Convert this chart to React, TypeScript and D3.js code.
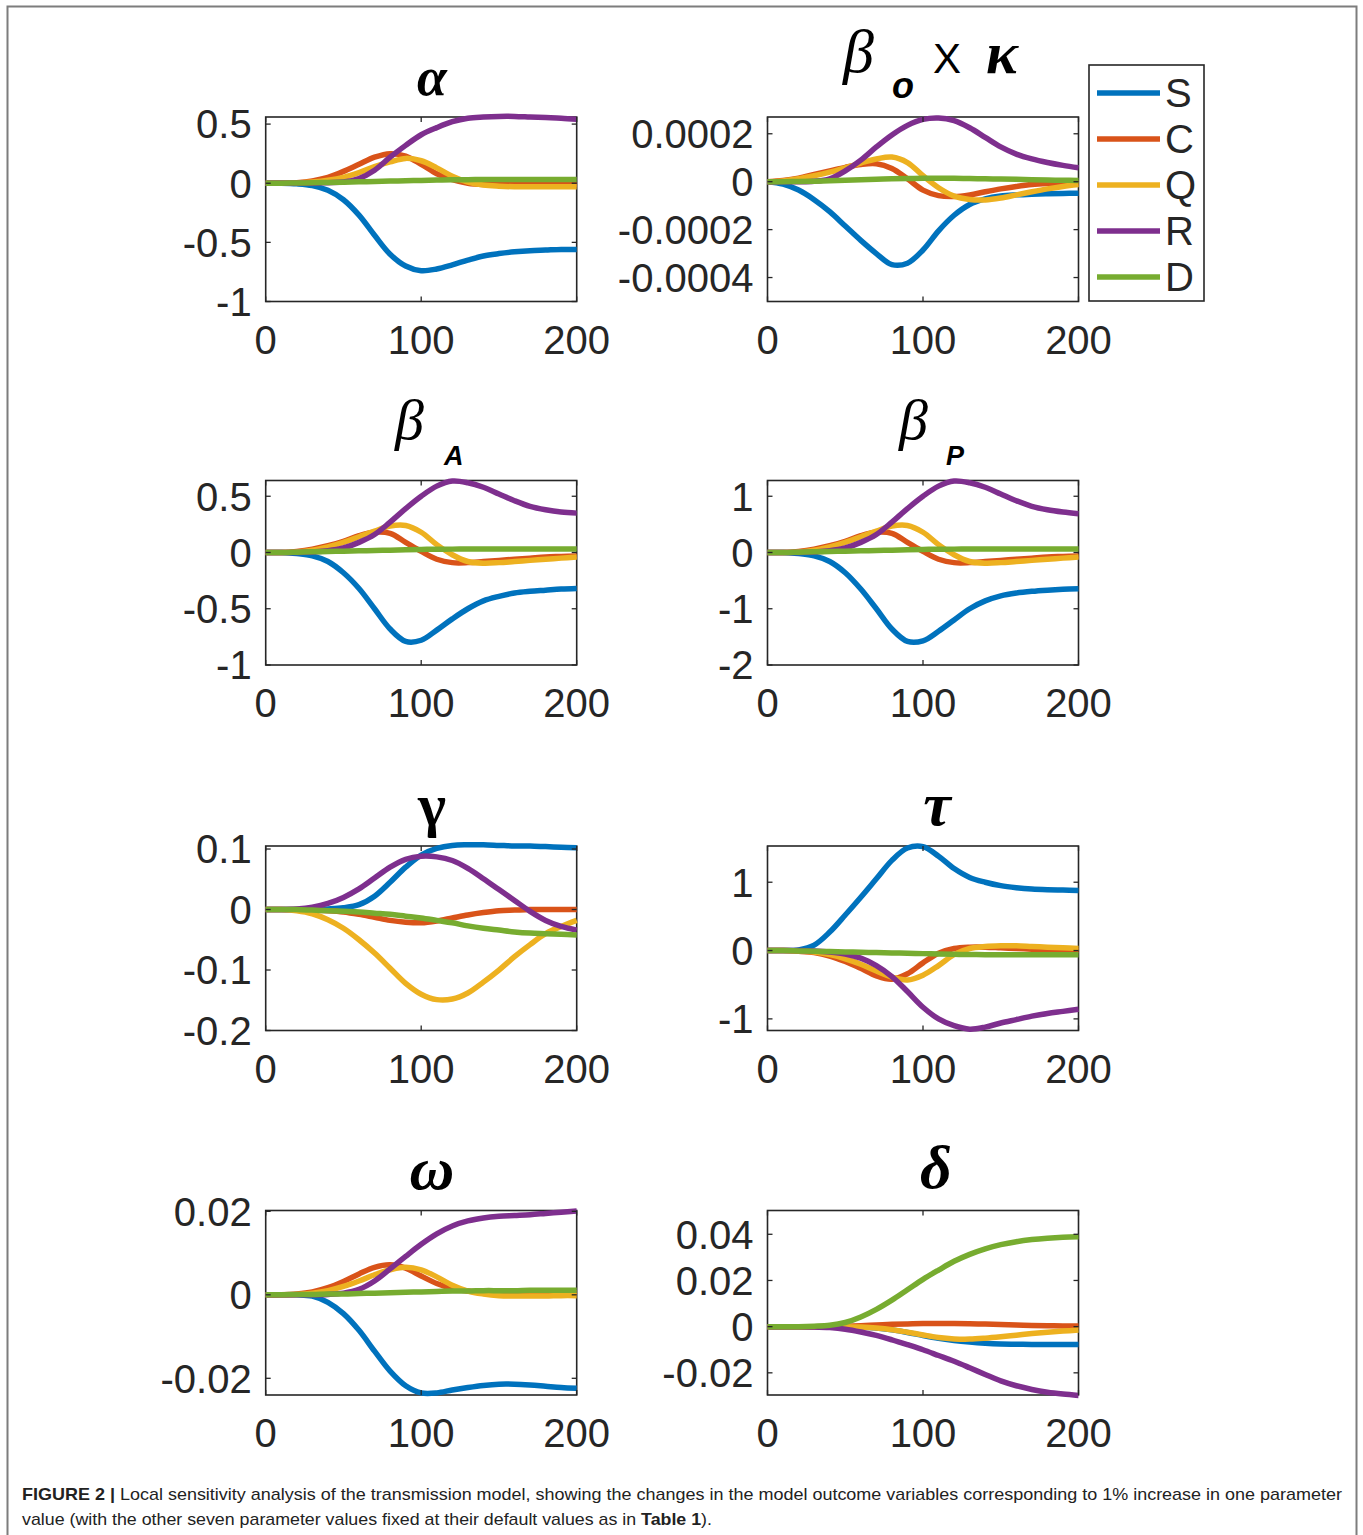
import React, { useEffect, useRef } from 'react';
import * as d3 from 'd3';

// time axis (days)
const days = [0, 10, 20, 30, 40, 50, 60, 70, 80, 90, 100, 110, 120, 130, 140, 150, 160, 170, 180, 190, 200];
const seriesNames = ['S', 'C', 'Q', 'R', 'D'];
const seriesColors = ['#0072BD', '#D95319', '#EDB120', '#7E2F8E', '#77AC30'];

// alpha
const alphaS = [0, 0, -0.005, -0.02, -0.06, -0.14, -0.27, -0.44, -0.6, -0.7, -0.74, -0.725, -0.69, -0.65, -0.615, -0.595, -0.58, -0.57, -0.565, -0.56, -0.56];
const alphaC = [0, 0, 0.005, 0.02, 0.05, 0.1, 0.16, 0.22, 0.25, 0.23, 0.16, 0.08, 0.03, 0, -0.01, -0.01, -0.01, -0.01, -0.01, -0.01, -0.01];
const alphaQ = [0, 0, 0.002, 0.01, 0.025, 0.05, 0.09, 0.14, 0.18, 0.21, 0.19, 0.13, 0.06, 0.01, -0.015, -0.025, -0.03, -0.03, -0.03, -0.03, -0.03];
const alphaR = [0, 0, 0, 0, 0.005, 0.01, 0.04, 0.11, 0.22, 0.32, 0.41, 0.47, 0.52, 0.55, 0.56, 0.565, 0.565, 0.56, 0.555, 0.55, 0.54];
const alphaD = [0, 0, 0.002, 0.004, 0.006, 0.009, 0.012, 0.015, 0.018, 0.021, 0.024, 0.027, 0.029, 0.03, 0.031, 0.031, 0.031, 0.031, 0.031, 0.031, 0.031];
const alphaTicks = [-1, -0.5, 0, 0.5];

// beta_o x kappa
const kappaS = [0, -0.1e-4, -0.35e-4, -0.75e-4, -1.25e-4, -1.85e-4, -2.45e-4, -3.0e-4, -3.46e-4, -3.4e-4, -2.85e-4, -2.05e-4, -1.4e-4, -0.95e-4, -0.72e-4, -0.6e-4, -0.55e-4, -0.52e-4, -0.5e-4, -0.49e-4, -0.48e-4];
const kappaC = [0, 0.05e-4, 0.15e-4, 0.3e-4, 0.45e-4, 0.6e-4, 0.72e-4, 0.75e-4, 0.55e-4, 0.12e-4, -0.35e-4, -0.58e-4, -0.62e-4, -0.55e-4, -0.42e-4, -0.3e-4, -0.2e-4, -0.12e-4, -0.08e-4, -0.06e-4, -0.05e-4];
const kappaQ = [0, 0.03e-4, 0.12e-4, 0.25e-4, 0.4e-4, 0.58e-4, 0.78e-4, 0.95e-4, 1.03e-4, 0.8e-4, 0.25e-4, -0.25e-4, -0.6e-4, -0.74e-4, -0.76e-4, -0.68e-4, -0.55e-4, -0.42e-4, -0.3e-4, -0.2e-4, -0.12e-4];
const kappaR = [0, 0, 0, 0.02e-4, 0.12e-4, 0.45e-4, 0.9e-4, 1.45e-4, 1.95e-4, 2.35e-4, 2.6e-4, 2.66e-4, 2.55e-4, 2.25e-4, 1.85e-4, 1.45e-4, 1.15e-4, 0.95e-4, 0.8e-4, 0.68e-4, 0.58e-4];
const kappaD = [0, 0, 0.01e-4, 0.02e-4, 0.04e-4, 0.06e-4, 0.08e-4, 0.1e-4, 0.12e-4, 0.13e-4, 0.14e-4, 0.14e-4, 0.14e-4, 0.13e-4, 0.12e-4, 0.11e-4, 0.1e-4, 0.08e-4, 0.07e-4, 0.06e-4, 0.05e-4];
const kappaTicks = [-0.0004, -0.0002, 0, 0.0002];

// beta_A
const betaAS = [0, 0, -0.01, -0.03, -0.08, -0.18, -0.32, -0.5, -0.68, -0.79, -0.78, -0.69, -0.59, -0.5, -0.43, -0.39, -0.36, -0.345, -0.335, -0.325, -0.32];
const betaAC = [0, 0, 0.01, 0.03, 0.06, 0.1, 0.15, 0.18, 0.17, 0.09, 0.01, -0.06, -0.09, -0.09, -0.08, -0.07, -0.06, -0.05, -0.04, -0.035, -0.03];
const betaAQ = [0, 0, 0.005, 0.02, 0.05, 0.09, 0.14, 0.19, 0.235, 0.24, 0.18, 0.07, -0.02, -0.08, -0.095, -0.09, -0.08, -0.07, -0.06, -0.05, -0.04];
const betaAR = [0, 0, 0, 0.005, 0.015, 0.04, 0.09, 0.16, 0.27, 0.39, 0.5, 0.59, 0.635, 0.62, 0.58, 0.52, 0.46, 0.41, 0.38, 0.36, 0.35];
const betaAD = [0, 0, 0.003, 0.006, 0.009, 0.012, 0.015, 0.018, 0.021, 0.024, 0.027, 0.029, 0.03, 0.031, 0.031, 0.031, 0.031, 0.031, 0.031, 0.031, 0.031];
const betaATicks = [-1, -0.5, 0, 0.5];

// beta_P
const betaPS = [0, 0, -0.02, -0.06, -0.16, -0.36, -0.65, -1.0, -1.36, -1.58, -1.57, -1.4, -1.2, -1.0, -0.86, -0.77, -0.72, -0.69, -0.67, -0.655, -0.645];
const betaPC = [0, 0, 0.02, 0.06, 0.12, 0.2, 0.3, 0.36, 0.34, 0.18, 0.02, -0.12, -0.18, -0.18, -0.16, -0.14, -0.12, -0.1, -0.08, -0.07, -0.06];
const betaPQ = [0, 0, 0.01, 0.04, 0.1, 0.18, 0.28, 0.38, 0.47, 0.48, 0.36, 0.14, -0.04, -0.16, -0.19, -0.18, -0.16, -0.14, -0.12, -0.1, -0.08];
const betaPR = [0, 0, 0, 0.01, 0.03, 0.08, 0.18, 0.32, 0.54, 0.78, 1.0, 1.18, 1.27, 1.24, 1.16, 1.04, 0.92, 0.82, 0.76, 0.72, 0.69];
const betaPD = [0, 0, 0.006, 0.012, 0.018, 0.024, 0.03, 0.036, 0.042, 0.048, 0.054, 0.058, 0.06, 0.062, 0.062, 0.062, 0.062, 0.062, 0.062, 0.062, 0.062];
const betaPTicks = [-2, -1, 0, 1];

// gamma
const gammaS = [0, 0, 0, 0, 0.001, 0.003, 0.008, 0.022, 0.045, 0.07, 0.09, 0.101, 0.106, 0.107, 0.107, 0.106, 0.105, 0.105, 0.104, 0.103, 0.102];
const gammaC = [0, 0, 0, -0.001, -0.002, -0.004, -0.008, -0.013, -0.018, -0.021, -0.022, -0.019, -0.014, -0.009, -0.005, -0.002, -0.001, 0, 0, 0, 0];
const gammaQ = [0, 0, -0.002, -0.007, -0.017, -0.031, -0.05, -0.072, -0.097, -0.122, -0.14, -0.149, -0.148, -0.138, -0.12, -0.1, -0.078, -0.058, -0.04, -0.028, -0.018];
const gammaR = [0, 0, 0.001, 0.004, 0.01, 0.02, 0.034, 0.052, 0.07, 0.083, 0.088, 0.087, 0.081, 0.068, 0.051, 0.033, 0.015, -0.003, -0.018, -0.028, -0.034];
const gammaD = [0, 0, 0, -0.001, -0.002, -0.003, -0.004, -0.006, -0.008, -0.011, -0.014, -0.018, -0.022, -0.027, -0.031, -0.034, -0.037, -0.039, -0.04, -0.041, -0.042];
const gammaTicks = [-0.2, -0.1, 0, 0.1];

// tau
const tauS = [0, 0, 0.01, 0.08, 0.27, 0.52, 0.78, 1.05, 1.32, 1.5, 1.52, 1.38, 1.2, 1.07, 1.0, 0.95, 0.92, 0.9, 0.89, 0.885, 0.88];
const tauC = [0, 0, -0.01, -0.03, -0.08, -0.16, -0.26, -0.37, -0.42, -0.34, -0.18, -0.04, 0.03, 0.05, 0.05, 0.04, 0.03, 0.02, 0.01, 0, 0];
const tauQ = [0, 0, -0.005, -0.02, -0.06, -0.12, -0.2, -0.3, -0.39, -0.43, -0.36, -0.22, -0.06, 0.03, 0.06, 0.07, 0.07, 0.06, 0.05, 0.04, 0.03];
const tauR = [0, 0, 0, -0.005, -0.02, -0.05, -0.11, -0.22, -0.38, -0.6, -0.83, -1.0, -1.1, -1.15, -1.12, -1.06, -1.01, -0.96, -0.92, -0.89, -0.86];
const tauD = [0, 0, -0.005, -0.01, -0.015, -0.02, -0.025, -0.03, -0.035, -0.04, -0.045, -0.05, -0.055, -0.058, -0.06, -0.06, -0.06, -0.06, -0.06, -0.06, -0.06];
const tauTicks = [-1, 0, 1];

// omega
const omegaS = [0, 0, 0, -0.0003, -0.0018, -0.0045, -0.0085, -0.0135, -0.0183, -0.0218, -0.0235, -0.0235, -0.0228, -0.0222, -0.0217, -0.0214, -0.0214, -0.0216, -0.0219, -0.0222, -0.0224];
const omegaC = [0, 0, 0.0002, 0.0007, 0.0017, 0.0032, 0.005, 0.0066, 0.0072, 0.0064, 0.0045, 0.0027, 0.0015, 0.0009, 0.0007, 0.0006, 0.0005, 0.0005, 0.0005, 0.0005, 0.0005];
const omegaQ = [0, 0, 0.0001, 0.0004, 0.001, 0.002, 0.0033, 0.0048, 0.006, 0.0066, 0.006, 0.0043, 0.0023, 0.0009, 0.0002, -0.0002, -0.0003, -0.0003, -0.0003, -0.0002, -0.0002];
const omegaR = [0, 0, 0, 0, 0.0001, 0.0004, 0.0013, 0.0033, 0.0062, 0.0092, 0.0121, 0.0146, 0.0165, 0.0177, 0.0184, 0.0188, 0.019, 0.0192, 0.0195, 0.0198, 0.0201];
const omegaD = [0, 0, 0.0001, 0.0001, 0.0002, 0.0002, 0.0003, 0.0004, 0.0005, 0.0006, 0.0007, 0.0008, 0.0009, 0.0009, 0.001, 0.001, 0.001, 0.0011, 0.0011, 0.0011, 0.0011];
const omegaTicks = [-0.02, 0, 0.02];

// delta
const deltaS = [0, 0, 0, 0, 0, 0, -0.0002, -0.0006, -0.0014, -0.0025, -0.0038, -0.005, -0.006, -0.0067, -0.0072, -0.0075, -0.0076, -0.0077, -0.0077, -0.0077, -0.0077];
const deltaC = [0, 0, 0, 0, 0, 0.0002, 0.0004, 0.0007, 0.001, 0.0012, 0.0014, 0.0014, 0.0014, 0.0013, 0.0011, 0.0009, 0.0007, 0.0005, 0.0004, 0.0003, 0.0003];
const deltaQ = [0, 0, 0, 0, 0, 0, -0.0002, -0.0006, -0.0013, -0.0024, -0.0036, -0.0047, -0.0053, -0.0054, -0.005, -0.0044, -0.0037, -0.003, -0.0024, -0.0019, -0.0015];
const deltaR = [0, 0, 0, -0.0001, -0.0004, -0.0011, -0.0023, -0.0038, -0.0057, -0.0078, -0.01, -0.0125, -0.015, -0.0178, -0.0207, -0.0235, -0.0256, -0.0272, -0.0284, -0.0292, -0.0298];
const deltaD = [0, 0, 0, 0.0002, 0.0006, 0.0018, 0.0042, 0.0075, 0.0115, 0.016, 0.0205, 0.0245, 0.0283, 0.0313, 0.0337, 0.0355, 0.0368, 0.0377, 0.0383, 0.0387, 0.0389];
const deltaTicks = [-0.02, 0, 0.02, 0.04];

const xTicks = [0, 100, 200];

const panels = [
  { col: 0, row: 0, domain: [-1, 0.56], ticks: alphaTicks, series: [alphaS, alphaC, alphaQ, alphaR, alphaD] },
  { col: 1, row: 0, domain: [-0.0005, 0.00027], ticks: kappaTicks, series: [kappaS, kappaC, kappaQ, kappaR, kappaD] },
  { col: 0, row: 1, domain: [-1, 0.64], ticks: betaATicks, series: [betaAS, betaAC, betaAQ, betaAR, betaAD] },
  { col: 1, row: 1, domain: [-2, 1.28], ticks: betaPTicks, series: [betaPS, betaPC, betaPQ, betaPR, betaPD] },
  { col: 0, row: 2, domain: [-0.2, 0.105], ticks: gammaTicks, series: [gammaS, gammaC, gammaQ, gammaR, gammaD] },
  { col: 1, row: 2, domain: [-1.17, 1.53], ticks: tauTicks, series: [tauS, tauC, tauQ, tauR, tauD] },
  { col: 0, row: 3, domain: [-0.024, 0.0202], ticks: omegaTicks, series: [omegaS, omegaC, omegaQ, omegaR, omegaD] },
  { col: 1, row: 3, domain: [-0.0296, 0.0503], ticks: deltaTicks, series: [deltaS, deltaC, deltaQ, deltaR, deltaD] },
];

const W = 1363;
const H = 1535;
const colLeft = [265.7, 767.5];
const rowTop = [117, 480.5, 846, 1210.5];
const plotW = 311;
const plotH = 184.5;
const axisColor = '#262626';
const sans = '"Liberation Sans", Arial, Helvetica, sans-serif';
const serif = '"Liberation Serif", "Times New Roman", serif';
const tickFont = '40px';

export default function App() {
  const svgRef = useRef(null);

  useEffect(() => {
    const svg = d3.select(svgRef.current);
    svg.selectAll('*').remove();

    // outer figure frame
    svg.append('rect')
      .attr('x', 7.5).attr('y', 6.5)
      .attr('width', 1349).attr('height', 1545)
      .attr('fill', 'none')
      .attr('stroke', '#7d7d7d')
      .attr('stroke-width', 2);

    panels.forEach(p => {
      const x0 = colLeft[p.col];
      const y0 = rowTop[p.row];
      const x = d3.scaleLinear().domain([0, 200]).range([x0, x0 + plotW]);
      const y = d3.scaleLinear().domain(p.domain).range([y0 + plotH, y0]);
      const g = svg.append('g');

      g.append('rect')
        .attr('x', x0).attr('y', y0)
        .attr('width', plotW).attr('height', plotH)
        .attr('fill', 'white')
        .attr('stroke', axisColor)
        .attr('stroke-width', 1.6);

      const line = d3.line()
        .x((d, i) => x(days[i]))
        .y(d => y(d))
        .curve(d3.curveCatmullRom.alpha(0.5));

      p.series.forEach((vals, si) => {
        g.append('path')
          .datum(vals)
          .attr('d', line)
          .attr('fill', 'none')
          .attr('stroke', seriesColors[si])
          .attr('stroke-width', 5.5)
          .attr('stroke-linejoin', 'round')
          .attr('stroke-linecap', 'butt');
      });

      // inner ticks on all four sides
      p.ticks.forEach(t => {
        const ty = y(t);
        g.append('line').attr('x1', x0).attr('x2', x0 + 5).attr('y1', ty).attr('y2', ty)
          .attr('stroke', axisColor).attr('stroke-width', 1.3);
        g.append('line').attr('x1', x0 + plotW - 5).attr('x2', x0 + plotW).attr('y1', ty).attr('y2', ty)
          .attr('stroke', axisColor).attr('stroke-width', 1.3);
        g.append('text')
          .attr('x', x0 - 14)
          .attr('y', ty)
          .attr('dy', '0.36em')
          .attr('text-anchor', 'end')
          .style('font-family', sans)
          .style('font-size', tickFont)
          .style('fill', axisColor)
          .text(String(t));
      });

      xTicks.forEach(t => {
        const tx = x(t);
        g.append('line').attr('x1', tx).attr('x2', tx).attr('y1', y0 + plotH).attr('y2', y0 + plotH - 5)
          .attr('stroke', axisColor).attr('stroke-width', 1.3);
        g.append('line').attr('x1', tx).attr('x2', tx).attr('y1', y0).attr('y2', y0 + 5)
          .attr('stroke', axisColor).attr('stroke-width', 1.3);
        g.append('text')
          .attr('x', tx)
          .attr('y', y0 + plotH + 52)
          .attr('text-anchor', 'middle')
          .style('font-family', sans)
          .style('font-size', tickFont)
          .style('fill', axisColor)
          .text(String(t));
      });
    });

    // panel titles
    const title = (txt, xx, yy, size, opts = {}) => {
      svg.append('text')
        .attr('x', xx).attr('y', yy)
        .attr('text-anchor', opts.anchor || 'middle')
        .style('font-family', opts.family || serif)
        .style('font-size', `${size}px`)
        .style('font-weight', opts.weight || 'bold')
        .style('font-style', opts.style || 'italic')
        .style('fill', '#000')
        .text(txt);
    };

    title('α', 432, 95, 54);
    title('β', 843, 72, 62, { anchor: 'start', weight: 'normal' });
    title('o', 892, 98, 36, { anchor: 'start', family: sans });
    title('X', 933, 73, 42, { anchor: 'start', family: sans, weight: 'normal', style: 'normal' });
    title('κ', 986, 73, 60, { anchor: 'start' });
    title('β', 395, 439, 58, { anchor: 'start', weight: 'normal' });
    title('A', 444, 465, 27, { anchor: 'start', family: sans });
    title('β', 899, 439, 58, { anchor: 'start', weight: 'normal' });
    title('P', 946, 465, 27, { anchor: 'start', family: sans });
    title('γ', 432, 825, 60, { style: 'normal' });
    title('τ', 937, 825, 62);
    title('ω', 432, 1189, 62);
    title('δ', 936, 1188, 62);

    // legend
    const lg = svg.append('g');
    lg.append('rect')
      .attr('x', 1089).attr('y', 65)
      .attr('width', 115).attr('height', 236)
      .attr('fill', 'white')
      .attr('stroke', axisColor)
      .attr('stroke-width', 1.6);
    seriesNames.forEach((name, i) => {
      const ly = 93 + i * 46;
      lg.append('line')
        .attr('x1', 1097).attr('x2', 1160)
        .attr('y1', ly).attr('y2', ly)
        .attr('stroke', seriesColors[i])
        .attr('stroke-width', 5.5);
      lg.append('text')
        .attr('x', 1165).attr('y', ly)
        .attr('dy', '0.36em')
        .style('font-family', sans)
        .style('font-size', tickFont)
        .style('fill', axisColor)
        .text(name);
    });

    // caption
    const cap1 = svg.append('text')
      .attr('x', 22).attr('y', 1500)
      .attr('textLength', 1320)
      .attr('lengthAdjust', 'spacingAndGlyphs')
      .style('font-family', sans)
      .style('font-size', '17px')
      .style('fill', '#222');
    cap1.append('tspan').style('font-weight', 'bold').text('FIGURE 2 |');
    cap1.append('tspan').text(' Local sensitivity analysis of the transmission model, showing the changes in the model outcome variables corresponding to 1% increase in one parameter');

    const cap2 = svg.append('text')
      .attr('x', 22).attr('y', 1525)
      .attr('textLength', 690)
      .attr('lengthAdjust', 'spacingAndGlyphs')
      .style('font-family', sans)
      .style('font-size', '17px')
      .style('fill', '#222');
    cap2.append('tspan').text('value (with the other seven parameter values fixed at their default values as in ');
    cap2.append('tspan').style('font-weight', 'bold').text('Table 1');
    cap2.append('tspan').text(').');
  }, []);

  return (
    <div style={{ position: 'absolute', left: 0, top: 0 }}>
      <svg ref={svgRef} width={W} height={H} style={{ display: 'block', background: 'white' }} />
    </div>
  );
}
